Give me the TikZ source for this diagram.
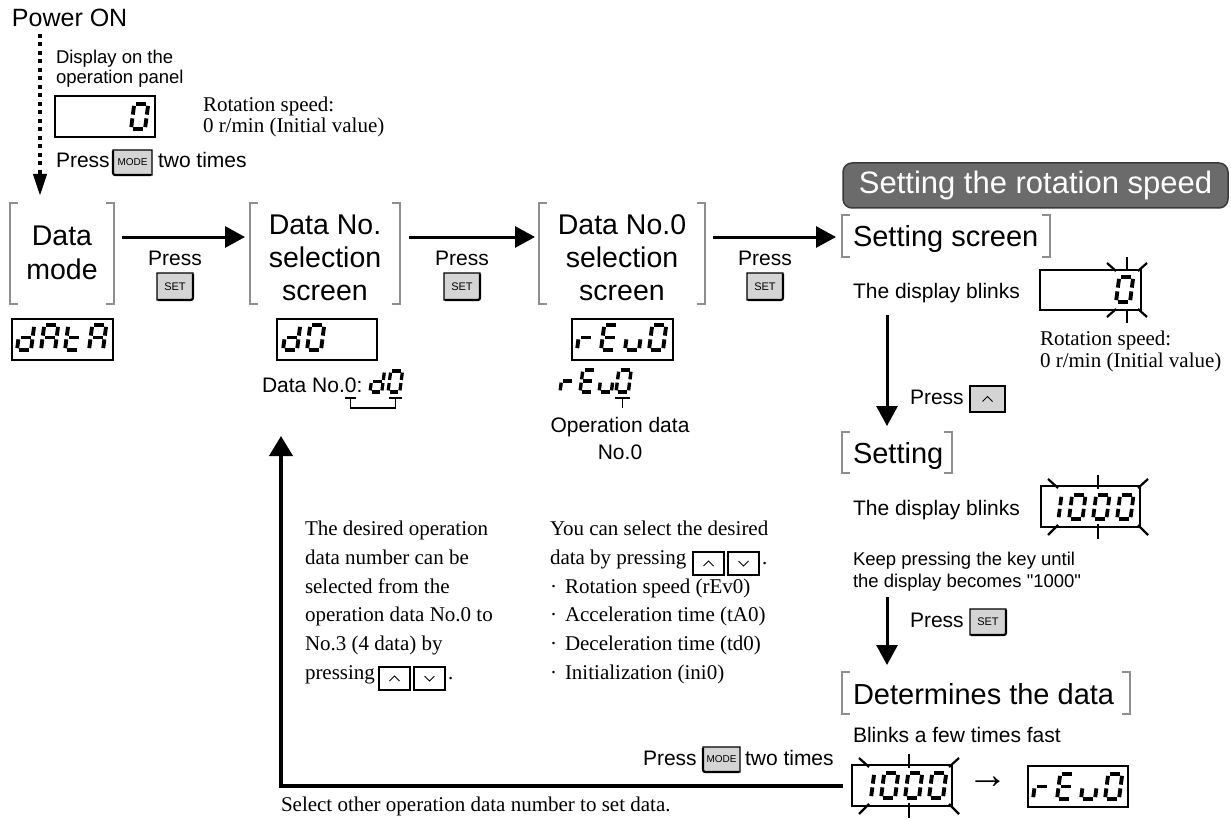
\documentclass[tikz,border=0pt]{standalone}
\usepackage{fontspec}
\setmainfont{Liberation Sans}
\newfontfamily\serf{Liberation Serif}
\newfontfamily\plainsans{Liberation Sans}
\usetikzlibrary{arrows.meta,calc,fit}
\definecolor{brkgray}{HTML}{8E8E8E}
\definecolor{keygray}{HTML}{D4D4D4}
\definecolor{banfill}{HTML}{6B6B6B}
\definecolor{banline}{HTML}{3A3A3A}
\newcommand{\fs}[1]{\fontsize{#1}{#1}\selectfont}
% seven segment glyphs
\def\sgsega{(\sgG,\sgH)--(\sgW-\sgG,\sgH)}
\def\sgsegb{(\sgW,\sgH-\sgG)--(\sgW,\sgM+\sgG)}
\def\sgsegc{(\sgW,\sgM-\sgG)--(\sgW,\sgG)}
\def\sgsegd{(\sgG,0)--(\sgW-\sgG,0)}
\def\sgsege{(0,\sgG)--(0,\sgM-\sgG)}
\def\sgsegf{(0,\sgM+\sgG)--(0,\sgH-\sgG)}
\def\sgsegg{(\sgG,\sgM)--(\sgW-\sgG,\sgM)}
\def\Lzero{a,b,c,d,e,f}
\def\Lone{b,c}
\def\Ld{b,c,d,e,g}
\def\LA{a,b,c,e,f,g}
\def\Lt{d,e,f,g}
\def\Lr{e,g}
\def\LE{a,d,e,f,g}
\def\Lu{c,d,e}
\newcommand{\sg}[4]{%
 \begin{scope}[shift={(#1,#2)}, xslant=0.13, yscale=-1]
  \pgfmathsetmacro\sgH{#3}%
  \pgfmathsetmacro\sgW{0.56*#3}%
  \pgfmathsetmacro\sgM{0.5*#3}%
  \pgfmathsetmacro\sgG{0.075*#3}%
  \pgfmathsetmacro\sgL{0.155*#3}%
  \foreach \sgS in #4 {\edef\sgP{\noexpand\draw[line width=\sgL pt, line cap=butt] \csname sgseg\sgS\endcsname;}\sgP}%
 \end{scope}}
% brackets
\newcommand{\brk}[5]{%
 \node[fit={(#2,#3)(#4,#5)}] (#1) {};
 \draw[brk] ([xshift=8pt]#1.north west) -- (#1.north west) -- (#1.south west) -- ([xshift=8pt]#1.south west);
 \draw[brk] ([xshift=-8pt]#1.north east) -- (#1.north east) -- (#1.south east) -- ([xshift=-8pt]#1.south east);}
% keys
\newcommand{\setkey}[6]{%
 \path[fill=keygray, draw=black, line width=1.1pt] (#2,#3) -- (#4,#3) -- (#4,#5-5) .. controls (#4,#5) .. (#4-5,#5) -- (#2,#5) -- cycle;
 \draw[line width=2.2pt] (#4,#3+1) -- (#4,#5-5) .. controls (#4,#5) .. (#4-5,#5) -- (#2+1,#5);
 \node[font=\fs{11}] (#1) at ({(#2+#4)/2},{(#3+#5)/2}) {#6};}
\newcommand{\modekey}[5]{%
 \path[fill=keygray, draw=black, line width=1.1pt] (#2,#3) -- (#4,#3) -- (#4,#5) -- (#2+5,#5) .. controls (#2,#5) .. (#2,#5-5) -- cycle;
 \draw[line width=2.2pt] (#2,#3+1) -- (#2,#5-5) .. controls (#2,#5) .. (#2+5,#5) -- (#4-1,#5);
 \node[font=\fs{10}] (#1) at ({(#2+#4)/2},{(#3+#5)/2}) {MODE};}
\newcommand{\chevup}[1]{\draw[line width=1pt] ($(#1.center)+(-5,2.5)$) -- ($(#1.center)+(0,-2.5)$) -- ($(#1.center)+(5,2.5)$);}
\newcommand{\chevdn}[1]{\draw[line width=1pt] ($(#1.center)+(-5,-2.5)$) -- ($(#1.center)+(0,2.5)$) -- ($(#1.center)+(5,-2.5)$);}
\tikzset{
 every node/.style={inner sep=0pt, outer sep=0pt},
 T/.style={anchor=base west, font=\fs{21}},
 Tc/.style={anchor=base, font=\fs{21}},
 S/.style={anchor=base west, font=\fs{18.5}},
 B/.style={anchor=base, font=\fs{28.5}},
 H/.style={anchor=base west, font=\fs{29}},
 R/.style={anchor=base west, font=\serf\fs{21}},
 brk/.style={draw=brkgray, line width=2.6pt},
 arr/.style={line width=3pt, -{Triangle[length=20pt,width=21pt]}},
 arrL/.style={line width=4pt, -{Triangle[length=20pt,width=23pt]}},
 disp/.style={draw, line width=1.4pt, fill=white, minimum width=100pt, minimum height=41pt},
 ray/.style={line width=2.2pt},
 smallkey/.style={draw, line width=1.1pt, fill=white, minimum width=31pt, minimum height=23pt},
}
\begin{document}
\begin{tikzpicture}[x=1pt,y=-1pt]
\useasboundingbox (0,0) rectangle (1231,821);
\fill[white] (0,0) rectangle (1231,821);

% ---------- Power ON ----------
\node[font=\fs{25}, anchor=base west] (pow) at (12,27) {Power ON};
\coordinate (dotS) at (40,34);
\coordinate (dotE) at (40,196);
\draw[line width=4pt, dash pattern=on 4pt off 4.5pt, -{Triangle[length=22pt,width=13pt]}] (dotS) -- (dotE);
\node[S] (dsp1) at (56,64) {Display on the};
\node[S] (dsp2) at (56,84) {operation panel};
\node[disp] (dPow) at (105,116.5) {};
\sg{131}{129}{25}{\Lzero}
\node[R] (rot1a) at (203,112) {Rotation speed:};
\node[R] (rot1b) at (203,133) {0 r/min (Initial value)};
\node[T] (pm1) at (56,168) {Press};
\modekey{mk1}{113}{150}{152}{175}
\node[T] (pm2) at (158,168) {two times};

% ---------- top row ----------
\brk{bDM}{10}{203}{114}{304}
\node[B] (dm1) at (62,245) {Data};
\node[B] (dm2) at (62,279) {mode};
\node[disp, minimum width=101pt] (dDM) at (62.5,339.5) {};
\sg{17}{350}{25}{\Ld}\sg{41}{350}{25}{\LA}\sg{65}{350}{25}{\Lt}\sg{89}{350}{25}{\LA}

\brk{bDN}{250}{203}{400}{304}
\node[B] (dn1) at (325,234) {Data No.};
\node[B] (dn2) at (325,267) {selection};
\node[B] (dn3) at (325,300) {screen};
\node[disp] (dDN) at (327,339.5) {};
\sg{283}{350}{25}{\Ld}\sg{307}{350}{25}{\Lzero}
\node[T] (dno) at (262,392) {Data No.0:};
\sg{370}{392}{21}{\Ld}\sg{388}{392}{21}{\Lzero}
\draw[line width=1.3pt] (345,398) -- (356,398);
\draw[line width=1.3pt] (389,398) -- (402,398);
\draw[line width=1.3pt] (350.5,398) -- (350.5,408) -- (395.5,408) -- (395.5,398);

\brk{bD0}{539}{203}{705}{304}
\node[B] (d01) at (622,234) {Data No.0};
\node[B] (d02) at (622,267) {selection};
\node[B] (d03) at (622,300) {screen};
\node[disp, minimum width=101pt] (dD0) at (622.5,339.5) {};
\sg{577}{350}{25}{\Lr}\sg{601}{350}{25}{\LE}\sg{625}{350}{25}{\Lu}\sg{649}{350}{25}{\Lzero}
\sg{560}{392}{22}{\Lr}\sg{580}{392}{22}{\LE}\sg{599}{392}{22}{\Lu}\sg{616}{392}{22}{\Lzero}
\draw[line width=1.3pt] (615,398) -- (630,398);
\draw[line width=1.3pt] (622.5,398) -- (622.5,408);
\node[Tc] (opd1) at (620,432) {Operation data};
\node[Tc] (opd2) at (620,459) {No.0};

% arrows of top row
\coordinate (rowY) at (0,237);
\draw[arr] ($(bDM.east|-rowY)+(8,0)$) -- ($(bDN.west|-rowY)+(-5,0)$);
\draw[arr] ($(bDN.east|-rowY)+(9,0)$) -- ($(bD0.west|-rowY)+(-4,0)$);
\node[Tc] (pr1) at (175,265) {Press};
\setkey{sk1}{157}{273}{193}{300}{SET}
\node[Tc] (pr2) at (462,265) {Press};
\setkey{sk2}{444}{273}{480}{300}{SET}
\node[Tc] (pr3) at (765,265) {Press};
\setkey{sk3}{747}{273}{783}{300}{SET}

% ---------- setting column ----------
\node[fill=banfill, draw=banline, line width=1.5pt, rounded corners=9pt, minimum width=385pt, minimum height=45pt, text=white, font=\fs{31}] (ban) at (1035.5,185.5) {Setting the rotation speed};
\brk{bSS}{842}{215}{1050}{257}
\draw[arr] ($(bD0.east|-rowY)+(8,0)$) -- ($(bSS.west|-rowY)+(-6,0)$);
\node[H] (ss) at (853,246) {Setting screen};
\node[T] (blk1) at (853,298) {The display blinks};
\node[disp, minimum width=101pt, minimum height=40pt] (dS0) at (1090.5,290) {};
\sg{1116}{302}{25}{\Lzero}
\draw[ray] (1107,263) -- (1116,271);
\draw[ray] (1127,257) -- (1127,269);
\draw[ray] (1138,271) -- (1147,263);
\draw[ray] (1107,317) -- (1116,309);
\draw[ray] (1127,311) -- (1127,323);
\draw[ray] (1138,309) -- (1147,317);
\node[R] (rot2a) at (1040,345) {Rotation speed:};
\node[R] (rot2b) at (1040,367) {0 r/min (Initial value)};

\coordinate (colX) at (887,0);
\brk{bSet}{842}{432}{952}{473}
\draw[arr] ($(colX|-dS0.south)+(0,5)$) -- ($(colX|-bSet.north)+(0,-6)$);
\node[T] (pu) at (910,404) {Press};
\node[smallkey, fill=keygray, line width=1.3pt, minimum width=35pt, minimum height=26pt] (kUp) at (987.5,399) {};
\chevup{kUp}
\node[H] (st) at (853,463) {Setting};
\node[T] (blk2) at (853,515) {The display blinks};
\node[disp, minimum width=99pt] (dS1) at (1090.5,506.5) {};
\sg{1045}{519}{24}{\Lone}\sg{1069}{519}{24}{\Lzero}\sg{1093}{519}{24}{\Lzero}\sg{1117}{519}{24}{\Lzero}
\draw[ray] (1048,479) -- (1058,488);
\draw[ray] (1098,475) -- (1098,489);
\draw[ray] (1138,488) -- (1148,479);
\draw[ray] (1048,535) -- (1058,525);
\draw[ray] (1098,524) -- (1098,539);
\draw[ray] (1138,525) -- (1148,535);
\node[S] (kp1) at (853,565) {Keep pressing the key until};
\node[S] (kp2) at (853,587) {the display becomes {\plainsans"}1000{\plainsans"}};

\brk{bDet}{842}{672}{1130}{714}
\draw[arr] ($(colX|-kp2.base)+(0,10)$) -- ($(colX|-bDet.north)+(0,-7)$);
\node[T] (ps) at (910,627) {Press};
\setkey{sk4}{970}{609}{1006}{635}{SET}
\node[H] (det) at (853,704) {Determines the data};
\node[T] (bfast) at (853,742) {Blinks a few times fast};
\node[disp] (dB1) at (902,785.5) {};
\sg{857}{798}{25}{\Lone}\sg{881}{798}{25}{\Lzero}\sg{905}{798}{25}{\Lzero}\sg{929}{798}{25}{\Lzero}
\draw[ray] (859,758) -- (869,767);
\draw[ray] (909,754) -- (909,768);
\draw[ray] (949,767) -- (959,758);
\draw[ray] (859,814) -- (869,804);
\draw[ray] (909,803) -- (909,818);
\draw[ray] (949,804) -- (959,814);
\node[font=\serf\fs{41}] (tarr) at (988,783) {→};
\node[disp] (dB2) at (1078,786.5) {};
\sg{1033}{799}{25}{\Lr}\sg{1057}{799}{25}{\LE}\sg{1081}{799}{25}{\Lu}\sg{1105}{799}{25}{\Lzero}

% ---------- return path ----------
\node[T] (pb1) at (643,765) {Press};
\modekey{mk2}{703}{747}{740}{772}
\node[T] (pb2) at (745,765) {two times};
\coordinate (ltip) at (281,436);
\draw[arrL] ($(dB1.west)+(-9,0)$) -| (ltip);
\node[R] (sel) at (281,811) {Select other operation data number to set data.};

% ---------- explanatory text ----------
\node[R] (l1) at (305,535) {The desired operation};
\node[R] (l2) at (305,564) {data number can be};
\node[R] (l3) at (305,593) {selected from the};
\node[R] (l4) at (305,621) {operation data No.0 to};
\node[R] (l5) at (305,650) {No.3 (4 data) by};
\node[R] (l6) at (305,679) {pressing};
\node[smallkey] (kl1) at (394.5,678.5) {};
\node[smallkey] (kl2) at (429.5,678.5) {};
\chevup{kl1}\chevdn{kl2}
\node[R] (l6d) at (448,679) {.};

\node[R] (r1) at (550,535) {You can select the desired};
\node[R] (r2) at (550,564) {data by pressing};
\node[smallkey] (kr1) at (708.5,563.5) {};
\node[smallkey] (kr2) at (743.5,563.5) {};
\chevup{kr1}\chevdn{kr2}
\node[R] (r2d) at (762,564) {.};
\node[R] (r3) at (550,593) {\makebox[15pt][l]{·}Rotation speed (rEv0)};
\node[R] (r4) at (550,621) {\makebox[15pt][l]{·}Acceleration time (tA0)};
\node[R] (r5) at (550,650) {\makebox[15pt][l]{·}Deceleration time (td0)};
\node[R] (r6) at (550,679) {\makebox[15pt][l]{·}Initialization (ini0)};
\end{tikzpicture}
\end{document}
